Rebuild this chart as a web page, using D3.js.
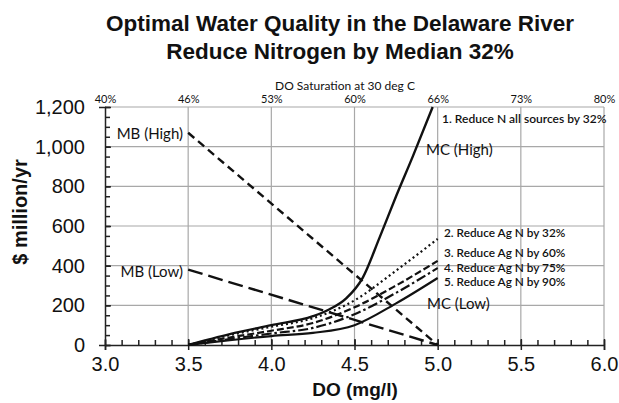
<!DOCTYPE html>
<html>
<head>
<meta charset="utf-8">
<script src="https://cdn.jsdelivr.net/npm/d3@7"></script>
<style>
  body { margin: 0; background: #fff; }
  svg text { fill: #111; }
</style>
</head>
<body>
<div id="chart"></div>
<script>
// title
var titleLines = ['Optimal Water Quality in the Delaware River', 'Reduce Nitrogen by Median 32%'];

// axis ticks
var xTicks = [3.0, 3.5, 4.0, 4.5, 5.0, 5.5, 6.0];
var yTicks = [0, 200, 400, 600, 800, 1000, 1200];
var satLabels = ['40%', '46%', '53%', '60%', '66%', '73%', '80%'];

// marginal benefit lines
var mbX = [3.5, 5.0];
var mbHigh = [1070, 0];
var mbLow = [380, 0];

// marginal cost, all sources
var mcHighX = [3.5, 3.75, 4.0, 4.25, 4.35, 4.45, 4.55, 4.65, 4.75, 4.85, 4.97];
var mcHigh = [0, 55, 100, 145, 180, 235, 340, 540, 750, 950, 1200];

// marginal cost, agricultural N scenarios
var agX = [3.5, 3.75, 4.0, 4.25, 4.5, 4.75, 5.0];
var ag32 = [0, 50, 92, 135, 225, 375, 535];
var ag60 = [0, 38, 72, 111, 190, 300, 424];
var ag75 = [0, 30, 58, 86, 155, 263, 388];
var ag90 = [0, 24, 45, 61, 100, 210, 338];

var w = 619, h = 403;
var pLeft = 105, pRight = 604, pTop = 107, pBottom = 345;

var svg = d3.select('#chart')
  .append('svg')
    .attr('width', w)
    .attr('height', h);

var x = d3.scaleLinear().domain([3, 6]).range([pLeft, pRight]);
var y = d3.scaleLinear().domain([0, 1200]).range([pBottom, pTop]);

// gridlines
svg.append('g')
  .selectAll('line')
  .data(yTicks.slice(1))
  .enter()
  .append('line')
    .attr('x1', pLeft).attr('x2', pRight)
    .attr('y1', d => y(d)).attr('y2', d => y(d))
    .style('stroke', '#a8a8a8').style('stroke-width', 1.2);

svg.append('g')
  .selectAll('line')
  .data(xTicks.slice(1))
  .enter()
  .append('line')
    .attr('x1', d => x(d)).attr('x2', d => x(d))
    .attr('y1', pTop).attr('y2', pBottom)
    .style('stroke', '#a8a8a8').style('stroke-width', 1.2);

// minor ticks
svg.append('g')
  .attr('transform', 'translate(0,' + pBottom + ')')
  .call(d3.axisBottom(x).ticks(30).tickSize(-5).tickFormat(''))
  .call(g => g.select('.domain').remove());

svg.append('g')
  .attr('transform', 'translate(' + pLeft + ',0)')
  .call(d3.axisLeft(y).ticks(24).tickSize(-5).tickFormat(''))
  .call(g => g.select('.domain').remove());

// main axes
var xAxis = svg.append('g')
  .attr('transform', 'translate(0,' + pBottom + ')')
  .call(d3.axisBottom(x).tickValues(xTicks).tickSize(5).tickPadding(6).tickFormat(d3.format('.1f')));
xAxis.selectAll('.tick line').attr('y1', -6);
xAxis.selectAll('text').style('font', '20px "Liberation Sans", Arial, sans-serif').attr('dy', '0.75em');

var yAxis = svg.append('g')
  .attr('transform', 'translate(' + pLeft + ',0)')
  .call(d3.axisLeft(y).tickValues(yTicks).tickSize(6).tickPadding(14).tickFormat(d3.format(',')));
yAxis.selectAll('.tick line').attr('x2', 6);
yAxis.selectAll('text').style('font', '20px "Liberation Sans", Arial, sans-serif');

svg.selectAll('.domain, .tick line').style('stroke', '#222').style('stroke-width', 1.5);

// top saturation axis
var topAxis = svg.append('g')
  .attr('transform', 'translate(0,' + (pTop - 3) + ')')
  .call(d3.axisTop(x).tickValues(xTicks).tickSize(0).tickPadding(1).tickFormat((d, i) => satLabels[i]));
topAxis.select('.domain').remove();
topAxis.selectAll('text').style('font', '11px Lato, sans-serif');

svg.append('text')
  .attr('x', 345).attr('y', 90)
  .attr('text-anchor', 'middle')
  .style('font', '12px Lato, sans-serif')
  .text('DO Saturation at 30 deg C');

// titles
svg.selectAll('.title')
  .data(titleLines)
  .enter()
  .append('text')
    .attr('class', 'title')
    .attr('x', 340)
    .attr('y', (d, i) => 31 + i * 28)
    .attr('text-anchor', 'middle')
    .style('font', 'bold 22.5px "Liberation Sans", Arial, sans-serif')
    .text(d => d);

svg.append('text')
  .attr('x', 355).attr('y', 396)
  .attr('text-anchor', 'middle')
  .style('font', 'bold 19px "Liberation Sans", Arial, sans-serif')
  .text('DO (mg/l)');

svg.append('text')
  .attr('transform', 'translate(27,212) rotate(-90)')
  .attr('text-anchor', 'middle')
  .style('font', 'bold 20px "Liberation Sans", Arial, sans-serif')
  .text('$ million/yr');

// series
var series = [
  { xs: mbX, ys: mbHigh, dash: '8,5', width: 2.4 },
  { xs: mbX, ys: mbLow, dash: '15,6', width: 2.4 },
  { xs: mcHighX, ys: mcHigh, dash: null, width: 2.4 },
  { xs: agX, ys: ag32, dash: '2,3', width: 2.2 },
  { xs: agX, ys: ag60, dash: '7,3', width: 2.2 },
  { xs: agX, ys: ag75, dash: '10,3,2.5,3', width: 2.2 },
  { xs: agX, ys: ag90, dash: null, width: 2.2 }
];

var line = d3.line()
  .x(d => x(d[0]))
  .y(d => y(d[1]))
  .curve(d3.curveMonotoneX);

svg.append('g')
  .selectAll('path')
  .data(series)
  .enter()
  .append('path')
    .attr('d', s => line(s.xs.map((v, i) => [v, s.ys[i]])))
    .style('fill', 'none')
    .style('stroke', '#111')
    .style('stroke-width', s => s.width)
    .style('stroke-dasharray', s => s.dash);

// annotations
var big = '15px Lato, sans-serif';
var small = '600 11.8px Lato, sans-serif';
var notes = [
  { t: 'MB (High)', x: 183, y: 139, a: 'end', f: big },
  { t: 'MB (Low)', x: 183, y: 277, a: 'end', f: big },
  { t: 'MC (High)', x: 426, y: 155, a: 'start', f: big },
  { t: 'MC (Low)', x: 427, y: 309, a: 'start', f: big },
  { t: '1. Reduce N all sources by 32%', x: 442, y: 123, a: 'start', f: '600 12px Lato, sans-serif' },
  { t: '2. Reduce Ag N by 32%', x: 444, y: 237, a: 'start', f: small },
  { t: '3. Reduce Ag N by 60%', x: 444, y: 257, a: 'start', f: small },
  { t: '4. Reduce Ag N by 75%', x: 444, y: 272, a: 'start', f: small },
  { t: '5. Reduce Ag N by 90%', x: 444, y: 286, a: 'start', f: small }
];

svg.append('g')
  .selectAll('text')
  .data(notes)
  .enter()
  .append('text')
    .attr('x', d => d.x)
    .attr('y', d => d.y)
    .attr('text-anchor', d => d.a)
    .style('font', d => d.f)
    .text(d => d.t);
</script>
</body>
</html>
